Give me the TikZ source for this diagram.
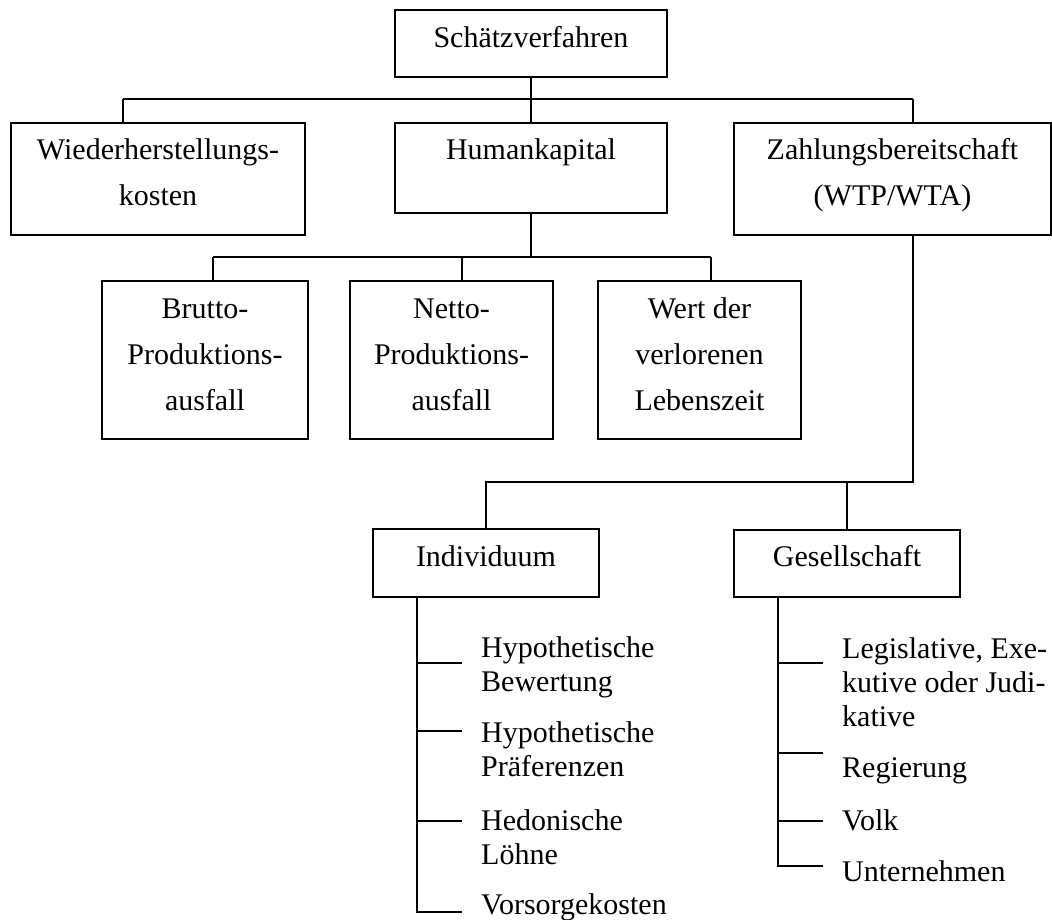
\documentclass[tikz,border=0pt]{standalone}
\usepackage{fontspec}
\setmainfont{Liberation Serif}
\newcommand\boxfont{\fontsize{30}{46}\selectfont}
\newcommand\listfont{\fontsize{30}{34}\selectfont}
\begin{document}
\begin{tikzpicture}[x=1pt,y=-1pt,
  box/.style={draw, line width=2pt, inner sep=0pt, anchor=north west},
  btxt/.style={anchor=base, inner sep=0pt, font=\boxfont},
  ltxt/.style={anchor=base west, inner sep=0pt, font=\listfont},
  conn/.style={line width=1.5pt}]
\useasboundingbox (0,0) rectangle (1052,919);

% boxes
\node[box, minimum width=272pt, minimum height=67pt]  (S) at (394,9) {};
\node[box, minimum width=294pt, minimum height=112pt] (W) at (10,122) {};
\node[box, minimum width=272pt, minimum height=90pt]  (H) at (394,122) {};
\node[box, minimum width=317pt, minimum height=112pt] (Z) at (733,122) {};
\node[box, minimum width=206pt, minimum height=158pt] (B) at (101,280) {};
\node[box, minimum width=203pt, minimum height=158pt] (N) at (349,280) {};
\node[box, minimum width=203pt, minimum height=158pt] (L) at (597,280) {};
\node[box, minimum width=226pt, minimum height=68pt]  (I) at (372,528) {};
\node[box, minimum width=226pt, minimum height=67pt]  (G) at (733,529) {};

% box texts
\node[btxt] (St) at (S.north |- 0,47) {Schätzverfahren};
\node[btxt] (Wt) at (W.north |- 0,159) {\begin{tabular}[t]{@{}c@{}}Wiederherstellungs-\\kosten\end{tabular}};
\node[btxt] (Ht) at (H.north |- 0,159) {Humankapital};
\node[btxt] (Zt) at (Z.north |- 0,159) {\begin{tabular}[t]{@{}c@{}}Zahlungsbereitschaft\\(WTP/WTA)\end{tabular}};
\node[btxt] (Bt) at (B.north |- 0,318) {\begin{tabular}[t]{@{}c@{}}Brutto-\\Produktions-\\ausfall\end{tabular}};
\node[btxt] (Nt) at (N.north |- 0,318) {\begin{tabular}[t]{@{}c@{}}Netto-\\Produktions-\\ausfall\end{tabular}};
\node[btxt] (Lt) at (L.north |- 0,318) {\begin{tabular}[t]{@{}c@{}}Wert der\\verlorenen\\Lebenszeit\end{tabular}};
\node[btxt] (It) at (I.north |- 0,566) {Individuum};
\node[btxt] (Gt) at (G.north |- 0,566) {Gesellschaft};

% list texts
\node[ltxt] (i1) at (481,657) {\begin{tabular}[t]{@{}l@{}}Hypothetische\\Bewertung\end{tabular}};
\node[ltxt] (i2) at (481,742) {\begin{tabular}[t]{@{}l@{}}Hypothetische\\Präferenzen\end{tabular}};
\node[ltxt] (i3) at (481,830) {\begin{tabular}[t]{@{}l@{}}Hedonische\\Löhne\end{tabular}};
\node[ltxt] (i4) at (481,914) {Vorsorgekosten};
\node[ltxt] (g1) at (842,658) {\begin{tabular}[t]{@{}l@{}}Legislative, Exe-\\kutive oder Judi-\\kative\end{tabular}};
\node[ltxt] (g2) at (842,777) {Regierung};
\node[ltxt] (g3) at (842,830) {Volk};
\node[ltxt] (g4) at (842,881) {Unternehmen};

% junction coordinates
\coordinate (b1L) at (123,99);
\coordinate (b1R) at (913,99);
\coordinate (b2L) at (213,257);
\coordinate (b2M) at (462,257);
\coordinate (b2R) at (711,257);
\coordinate (b3) at (913,482);
\coordinate (iv) at (417,912);
\coordinate (it1) at (462,663);
\coordinate (it2) at (462,731);
\coordinate (it3) at (462,821);
\coordinate (it4) at (462,912);
\coordinate (gv) at (778,866);
\coordinate (gt1) at (823,663);
\coordinate (gt2) at (823,753);
\coordinate (gt3) at (823,821);
\coordinate (gt4) at (823,866);

% top level connectors
\draw[conn] (S.south) -- (H.north);
\draw[conn] (b1L) -- (b1R);
\draw[conn] (b1L) -- (b1L |- W.north);
\draw[conn] (b1R) -- (b1R |- Z.north);

% Humankapital
\draw[conn] (H.south) -- (H.south |- b2L);
\draw[conn] (b2L) -- (b2R);
\draw[conn] (b2L) -- (b2L |- B.north);
\draw[conn] (b2M) -- (b2M |- N.north);
\draw[conn] (b2R) -- (b2R |- L.north);

% Zahlungsbereitschaft
\draw[conn] (b1R |- Z.south) -- (b3) -- (b3 -| I.north) -- (I.north);
\draw[conn] (b3 -| G.north) -- (G.north);

% Individuum list
\draw[conn] (I.south -| iv) -- (iv) -- (it4);
\draw[conn] (iv |- it1) -- (it1);
\draw[conn] (iv |- it2) -- (it2);
\draw[conn] (iv |- it3) -- (it3);

% Gesellschaft list
\draw[conn] (G.south -| gv) -- (gv) -- (gt4);
\draw[conn] (gv |- gt1) -- (gt1);
\draw[conn] (gv |- gt2) -- (gt2);
\draw[conn] (gv |- gt3) -- (gt3);
\end{tikzpicture}
\end{document}
